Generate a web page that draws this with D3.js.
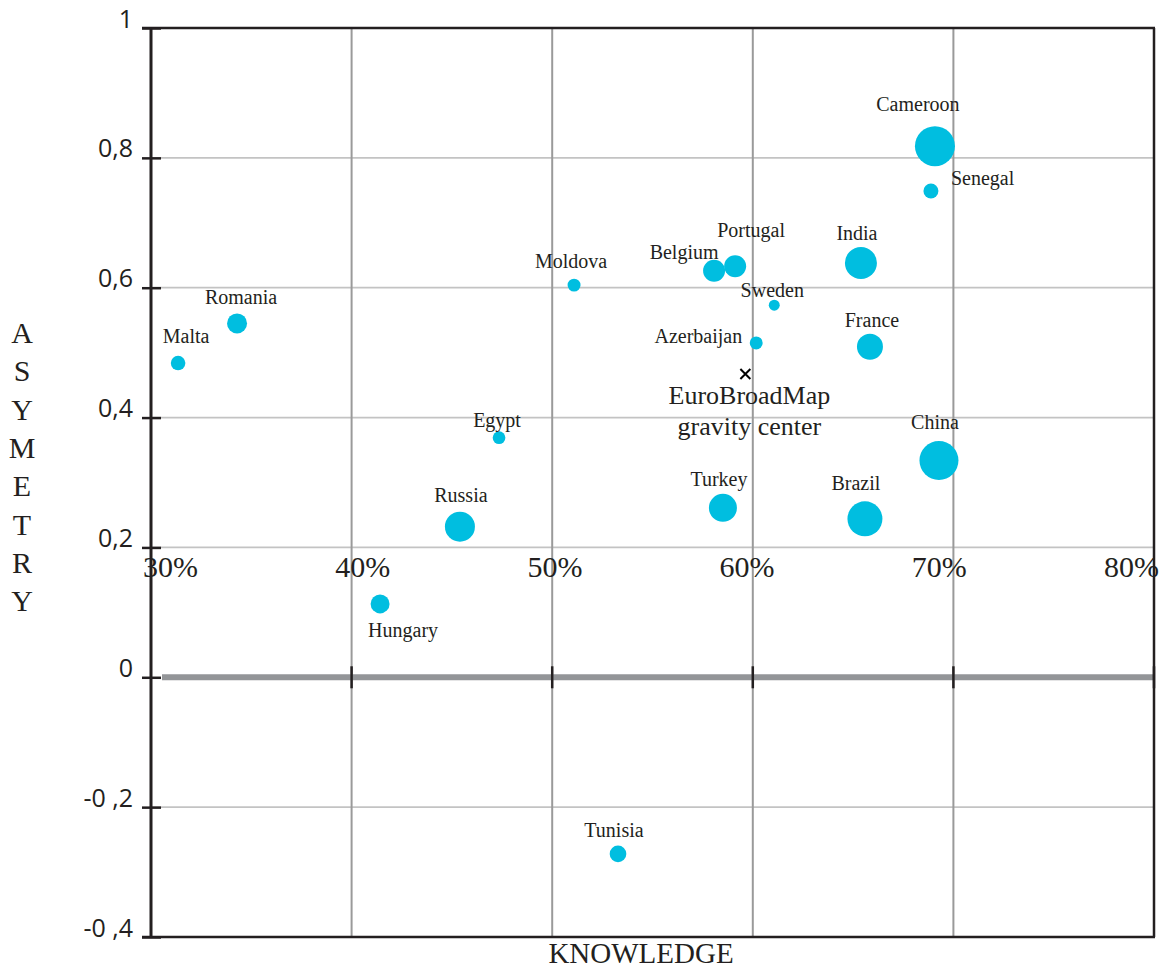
<!DOCTYPE html>
<html>
<head>
<meta charset="utf-8">
<script src="https://cdnjs.cloudflare.com/ajax/libs/d3/7.8.5/d3.min.js"></script>
<style>
  body { margin: 0; background: #fff; }
  svg { display: block; }
</style>
</head>
<body>
<script>
var countries = ["Malta", "Romania", "Moldova", "Egypt", "Russia", "Hungary", "Tunisia", "Belgium", "Portugal",
  "Sweden", "Azerbaijan", "Turkey", "India", "France", "Brazil", "China", "Cameroon", "Senegal"];
var knowledge = [31.35, 34.29, 51.09, 47.35, 45.40, 41.42, 53.28, 58.07, 59.12,
  61.07, 60.17, 58.51, 65.39, 65.84, 65.59, 69.28, 69.08, 68.88];
var asymetry = [0.484, 0.545, 0.604, 0.369, 0.232, 0.113, -0.272, 0.626, 0.633,
  0.573, 0.515, 0.261, 0.638, 0.509, 0.244, 0.334, 0.818, 0.749];
var weight = [53, 100, 42, 40, 225, 90, 69, 121, 121, 30, 42, 196, 256, 169, 306, 380, 400, 56];

var gravity = {name: ["EuroBroadMap", "gravity center"], x: 59.63, y: 0.467};

var xTicks = [30, 40, 50, 60, 70, 80];
var xTickLabels = ["30%", "40%", "50%", "60%", "70%", "80%"];
var yTicks = [1, 0.8, 0.6, 0.4, 0.2, 0, -0.2, -0.4];
var yTickLabels = ["1", "0,8", "0,6", "0,4", "0,2", "0", "-0 ,2", "-0 ,4"];

// label placement relative to each bubble: [dx, dy, anchor]
var labelPos = {
  Malta: [8, -20, "middle"], Romania: [4, -19, "middle"], Moldova: [-3, -17, "middle"],
  Egypt: [-2, -11, "middle"], Russia: [1, -25, "middle"], Hungary: [23, 33, "middle"],
  Tunisia: [-4, -17, "middle"], Belgium: [-30, -12, "middle"], Portugal: [16, -29, "middle"],
  Sweden: [-2, -8, "middle"], Azerbaijan: [-14, 0, "end"], Turkey: [-4, -22, "middle"],
  India: [-4, -23, "middle"], France: [2, -20, "middle"], Brazil: [-9, -29, "middle"],
  China: [-4, -31, "middle"], Cameroon: [-17, -35, "middle"], Senegal: [20, -6, "start"]
};

var data = countries.map(function(c, i){
  return {name: c, x: knowledge[i], y: asymetry[i], w: weight[i]};
});

var W = 1162, H = 969;
var margin = {top: 28, right: 8, bottom: 32, left: 151};
var serif = "'Liberation Serif', 'Times New Roman', serif";
var sans = "'Open Sans', 'Liberation Sans', sans-serif";
var ink = "#231f20";

var x = d3.scaleLinear().domain([30, 80]).range([margin.left, W - margin.right]);
var xLab = d3.scaleLinear().domain([30, 80]).range([170, 1131]);
var y = d3.scaleLinear().domain([-0.4, 1]).range([H - margin.bottom, margin.top]);
var r = d3.scaleSqrt().domain([0, 400]).range([0, 20]);

var svg = d3.select("body").append("svg")
  .attr("width", W)
  .attr("height", H);

// horizontal grid
svg.append("g").selectAll("line")
  .data(yTicks.filter(function(d){ return d != 0 && d != 1 && d != -0.4; }))
  .enter().append("line")
  .attr("x1", x(30)).attr("x2", x(80))
  .attr("y1", function(d){ return y(d); })
  .attr("y2", function(d){ return y(d); })
  .style("stroke", "#c3c3c3")
  .style("stroke-width", 1.8);

// vertical grid
svg.append("g").selectAll("line")
  .data(xTicks.slice(1, -1))
  .enter().append("line")
  .attr("x1", function(d){ return x(d); })
  .attr("x2", function(d){ return x(d); })
  .attr("y1", y(1)).attr("y2", y(-0.4))
  .style("stroke", "#9a9a9a")
  .style("stroke-width", 2);

// zero line with tick marks
svg.append("line")
  .attr("x1", x(30) + 11).attr("x2", x(80) + 1)
  .attr("y1", y(0)).attr("y2", y(0))
  .style("stroke", "#939598")
  .style("stroke-width", 6);
svg.append("g").selectAll("line")
  .data(xTicks.slice(1))
  .enter().append("line")
  .attr("x1", function(d){ return x(d); })
  .attr("x2", function(d){ return x(d); })
  .attr("y1", y(0) - 11).attr("y2", y(0) + 11)
  .style("stroke", ink)
  .style("stroke-width", 2.5);

// frame: top, bottom, right
svg.append("line")
  .attr("x1", x(30) - 9).attr("x2", x(80) + 1)
  .attr("y1", y(1)).attr("y2", y(1))
  .style("stroke", ink).style("stroke-width", 2.5);
svg.append("line")
  .attr("x1", x(30) - 9).attr("x2", x(80) + 1)
  .attr("y1", y(-0.4)).attr("y2", y(-0.4))
  .style("stroke", ink).style("stroke-width", 2.5);
svg.append("line")
  .attr("x1", x(80)).attr("x2", x(80))
  .attr("y1", y(1)).attr("y2", y(-0.4))
  .style("stroke", ink).style("stroke-width", 2.5);

// vertical axis
var yAxis = d3.axisLeft(y)
  .tickValues(yTicks)
  .tickSize(9)
  .tickFormat(function(d, i){ return yTickLabels[i]; });
var yGuide = svg.append("g")
  .attr("transform", "translate(" + margin.left + ",0)");
yAxis(yGuide);
yGuide.select(".domain")
  .attr("d", "M0," + y(1) + "V" + y(-0.4))
  .style("stroke", ink)
  .style("stroke-width", 3);
yGuide.selectAll(".tick line")
  .attr("x1", 10)
  .style("stroke", ink)
  .style("stroke-width", 2.5);
yGuide.selectAll(".tick text")
  .attr("x", -18)
  .attr("y", -1)
  .attr("dy", 0)
  .style("font-family", sans)
  .style("font-size", "25px")
  .style("fill", ink);

// horizontal tick labels inside plot
var xAxis = d3.axisBottom(xLab)
  .tickValues(xTicks)
  .tickSize(0)
  .tickFormat(function(d, i){ return xTickLabels[i]; });
var xGuide = svg.append("g")
  .attr("transform", "translate(0," + y(0.2) + ")");
xAxis(xGuide);
xGuide.select(".domain").remove();
xGuide.selectAll(".tick text")
  .attr("y", 30)
  .attr("dy", 0)
  .style("font-family", serif)
  .style("font-size", "30px")
  .style("fill", ink);

// bubbles
svg.append("g").selectAll("circle")
  .data(data)
  .enter().append("circle")
  .attr("cx", function(d){ return x(d.x); })
  .attr("cy", function(d){ return y(d.y); })
  .attr("r", function(d){ return r(d.w); })
  .style("fill", "#00bee0");

svg.append("g").selectAll("text")
  .data(data)
  .enter().append("text")
  .attr("x", function(d){ return x(d.x) + labelPos[d.name][0]; })
  .attr("y", function(d){ return y(d.y) + labelPos[d.name][1]; })
  .attr("text-anchor", function(d){ return labelPos[d.name][2]; })
  .style("font-family", serif)
  .style("font-size", "20px")
  .style("fill", ink)
  .text(function(d){ return d.name; });

// gravity center
var gx = x(gravity.x), gy = y(gravity.y);
svg.append("path")
  .attr("d", "M" + (gx - 5) + "," + (gy - 5) + "L" + (gx + 5) + "," + (gy + 5) +
    "M" + (gx + 5) + "," + (gy - 5) + "L" + (gx - 5) + "," + (gy + 5))
  .style("stroke", "#000")
  .style("stroke-width", 2);
svg.append("g").selectAll("text")
  .data(gravity.name)
  .enter().append("text")
  .attr("x", gx + 4)
  .attr("y", function(d, i){ return gy + 30 + i * 31; })
  .attr("text-anchor", "middle")
  .style("font-family", serif)
  .style("font-size", "26px")
  .style("fill", ink)
  .text(function(d){ return d; });

// axis titles
svg.append("text")
  .attr("x", 641)
  .attr("y", 963)
  .attr("text-anchor", "middle")
  .style("font-family", serif)
  .style("font-size", "29px")
  .style("fill", ink)
  .text("KNOWLEDGE");

svg.append("g").selectAll("text")
  .data("ASYMETRY".split(""))
  .enter().append("text")
  .attr("x", 22)
  .attr("y", function(d, i){ return 343 + i * 38.3; })
  .attr("text-anchor", "middle")
  .style("font-family", serif)
  .style("font-size", "30px")
  .style("fill", ink)
  .text(function(d){ return d; });
</script>
</body>
</html>
